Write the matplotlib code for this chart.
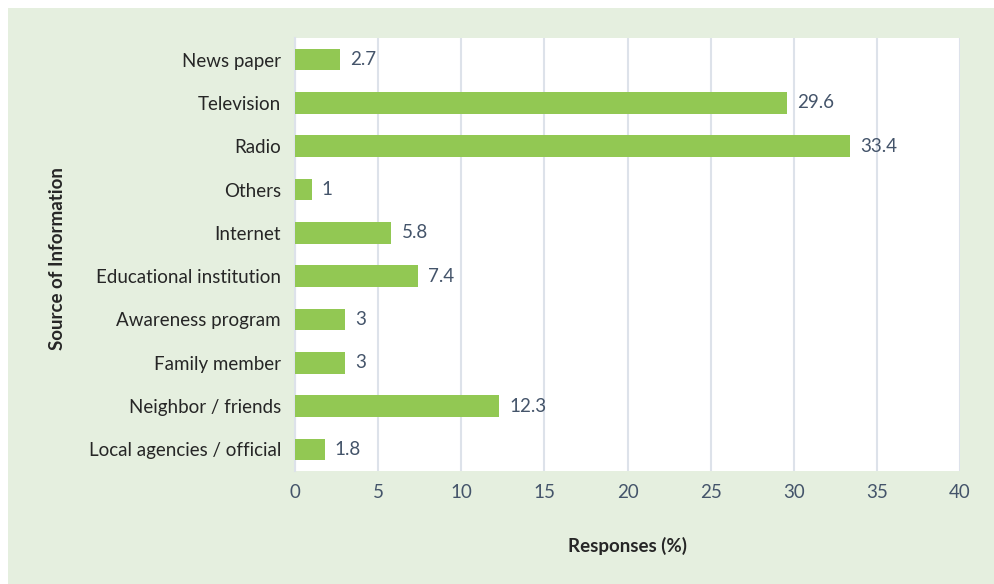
import matplotlib
matplotlib.use("Agg")
import matplotlib.pyplot as plt
from matplotlib.patches import Rectangle

sources = ["News paper", "Television", "Radio", "Others", "Internet",
           "Educational institution", "Awareness program", "Family member",
           "Neighbor / friends", "Local agencies / official"]
responses = [2.7, 29.6, 33.4, 1, 5.8, 7.4, 3, 3, 12.3, 1.8]
xticks = [0, 5, 10, 15, 20, 25, 30, 35, 40]

plt.rcParams['font.family'] = ['Lato', 'DejaVu Sans']

bar_color = "#92c853"
bg_color = "#e5efdf"
grid_color = "#dde2ea"
value_color = "#44546a"
label_color = "#262626"
fs = 13.5

fig = plt.figure(figsize=(9.94, 5.84), dpi=100)
fig.patch.set_facecolor("white")
# light green panel behind everything, leaving a thin white strip top/left
panel = Rectangle((8 / 994, 0), 1, 1 - 8 / 584, transform=fig.transFigure,
                  facecolor=bg_color, edgecolor="none", zorder=-10)
fig.add_artist(panel)

ax = fig.add_axes([295 / 994, 113 / 584, 665 / 994, 433 / 584])
ax.set_facecolor("white")

ypos = list(range(len(sources)))
ax.barh(ypos, responses, height=0.5, color=bar_color, zorder=3)
for y, v in zip(ypos, responses):
    ax.text(v + 0.6, y, f"{v:g}", va="center", ha="left",
            fontsize=fs, color=value_color)

ax.set_ylim(len(sources) - 0.5, -0.5)
ax.set_xlim(0, 40)
ax.set_yticks(ypos)
ax.set_yticklabels(sources, fontsize=fs, color=label_color)
ax.set_xticks(xticks)
ax.set_xticklabels([str(t) for t in xticks], fontsize=fs, color=value_color)
ax.tick_params(axis="both", length=0)
ax.tick_params(axis="y", pad=10)
ax.tick_params(axis="x", pad=9)
ax.xaxis.grid(True, color=grid_color, linewidth=1.5, zorder=0)
ax.set_axisbelow(True)
for side in ["top", "right", "bottom"]:
    ax.spines[side].set_visible(False)
ax.spines["left"].set_color(grid_color)
ax.spines["left"].set_linewidth(1.5)

ax.set_xlabel("Responses (%)", fontsize=fs, fontweight="bold",
              color=label_color, labelpad=26)
ax.set_ylabel("Source of Information", fontsize=fs, fontweight="bold",
              color=label_color)
ax.yaxis.set_label_coords(-0.344, 0.49)

fig.savefig("out.png", dpi=100, facecolor=fig.get_facecolor())
